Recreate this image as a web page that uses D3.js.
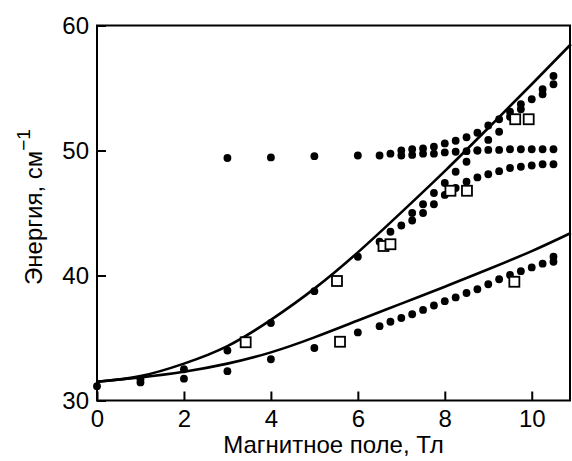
<!DOCTYPE html>
<html lang="ru">
<head>
<meta charset="UTF-8">
<title>Энергия vs поле</title>
<style>
  body { margin: 0; background: #fff; }
  text { font-family: "Liberation Sans", Arial, Helvetica, sans-serif; fill: #000; }
</style>
</head>
<body>
<div id="chart"></div>
<script src="https://d3js.org/d3.v7.min.js"></script>
<script>
// theory curves
const upperCurve = [[0,31.5],[1,31.95],[2,32.95],[3,34.35],[4,36.45],[5,38.95],[6,41.85],[7,45.05],[8,48.35],[9,51.8],[10,55.3],[10.9,58.5]];
const lowerCurve = [[0,31.5],[1,31.85],[2,32.3],[3,32.95],[4,33.85],[5,35.05],[6,36.4],[7,37.75],[8,39.1],[9,40.5],[10,41.95],[10.9,43.4]];

// measured points (filled circles), one array per branch
const branchLow = [[0,31.15],[1,31.45],[2,31.75],[3,32.35],[4,33.3],[5,34.2],[6,35.45],[6.5,35.95],[6.75,36.3],[7,36.6],[7.25,36.9],[7.5,37.25],[7.75,37.6],[8,37.95],[8.25,38.25],[8.5,38.6],[8.75,38.9],[9,39.3],[9.25,39.7],[9.5,40.05],[9.75,40.35],[10,40.65],[10.25,40.95],[10.5,41.1],[10.5,41.5]];
const branchMid = [[1,31.7],[2,32.5],[3,34.0],[4,36.2],[5,38.75],[6,41.5],[6.5,42.7],[6.75,43.5],[7,44.0],[7.25,44.4],[7.5,45.0],[7.75,45.7],[8,46.45],[8.25,47.0],[8.5,47.5],[8.75,47.85],[9,48.1],[9.25,48.35],[9.5,48.6],[9.75,48.7],[10,48.8],[10.25,48.9],[10.5,48.9]];
const branchCross = [[7.25,45.0],[7.5,45.7],[7.75,46.6],[8,47.4],[8.25,48.3],[8.5,49.1],[8.75,50.0],[9,50.85],[9.25,51.5],[9.5,52.7],[9.75,53.3],[10.25,54.5],[10.5,55.3]];
const branchFlat = [[3,49.4],[4,49.45],[5,49.55],[6,49.6],[6.5,49.6],[6.75,49.75],[7,49.6],[7.25,49.65],[7.5,49.75],[7.75,49.75],[8,49.85],[8.25,49.9],[8.5,49.95],[8.75,50.0],[9,50.05],[9.25,50.05],[9.5,50.1],[9.75,50.1],[10,50.1],[10.25,50.1],[10.5,50.1]];
const branchHigh = [[7,50.0],[7.25,50.1],[7.5,50.17],[7.75,50.3],[8,50.57],[8.25,50.78],[8.5,51.06],[8.75,51.42],[9,52.0],[9.25,52.5],[9.5,53.1],[9.75,53.7],[10,54.1],[10.25,54.9],[10.5,55.96]];

// open squares
const squares = [[3.42,34.66],[5.59,34.7],[9.6,39.5],[5.52,39.56],[6.59,42.36],[6.75,42.5],[8.13,46.78],[8.51,46.78],[9.62,52.5],[9.93,52.5]];

const xTicks = [0,2,4,6,8,10];
const yTicks = [30,40,50,60];

const width = 572, height = 461;
const svg = d3.select("#chart").append("svg")
    .attr("width", width)
    .attr("height", height);

const x = d3.scaleLinear().domain([0, 10.88]).range([97, 570]);
const y = d3.scaleLinear().domain([30, 60]).range([400.5, 25.5]);

// frame
svg.append("rect")
    .attr("x", x(0)).attr("y", y(60))
    .attr("width", x(10.88) - x(0)).attr("height", y(30) - y(60))
    .attr("fill", "none").attr("stroke", "#000").attr("stroke-width", 2);

// axes with inward ticks
const xAxis = svg.append("g")
    .attr("transform", `translate(0,${y(30)})`)
    .call(d3.axisBottom(x).tickValues(xTicks).tickSizeInner(-9).tickSizeOuter(0).tickPadding(9));
const yAxis = svg.append("g")
    .attr("transform", `translate(${x(0)},0)`)
    .call(d3.axisLeft(y).tickValues(yTicks).tickSizeInner(-9).tickSizeOuter(0).tickPadding(8));

[xAxis, yAxis].forEach(g => {
    g.select(".domain").remove();
    g.selectAll(".tick line").attr("stroke", "#000").attr("stroke-width", 2);
    g.selectAll(".tick text")
        .attr("font-size", 24)
        .attr("font-family", "'Liberation Sans', Arial, sans-serif");
});

// curves
const line = d3.line()
    .x(d => x(d[0]))
    .y(d => y(d[1]))
    .curve(d3.curveNatural);

svg.selectAll(".curve")
    .data([upperCurve, lowerCurve])
    .enter().append("path")
    .attr("class", "curve")
    .attr("d", line)
    .attr("fill", "none")
    .attr("stroke", "#000")
    .attr("stroke-width", 2.6);

// dots
const allDots = [].concat(branchLow, branchMid, branchCross, branchFlat, branchHigh);
svg.selectAll(".dot")
    .data(allDots).enter()
    .append("circle")
    .attr("class", "dot")
    .attr("cx", d => x(d[0]))
    .attr("cy", d => y(d[1]))
    .attr("r", 3.9)
    .attr("fill", "#000");

// squares
const sq = 10;
svg.selectAll(".sq")
    .data(squares).enter()
    .append("rect")
    .attr("class", "sq")
    .attr("x", d => x(d[0]) - sq / 2)
    .attr("y", d => y(d[1]) - sq / 2)
    .attr("width", sq).attr("height", sq)
    .attr("fill", "#fff")
    .attr("stroke", "#000")
    .attr("stroke-width", 1.8);

// axis titles
svg.append("text")
    .attr("x", (x(0) + x(10.88)) / 2)
    .attr("y", 453)
    .attr("text-anchor", "middle")
    .attr("font-size", 24)
    .text("Магнитное поле, Тл");

const yl = svg.append("text")
    .attr("transform", "translate(42,207) rotate(-90)")
    .attr("text-anchor", "middle")
    .attr("font-size", 24);
yl.append("tspan").text("Энергия, см");
yl.append("tspan").attr("dy", -12).attr("font-size", 19).text("\u22121");
</script>
</body>
</html>
